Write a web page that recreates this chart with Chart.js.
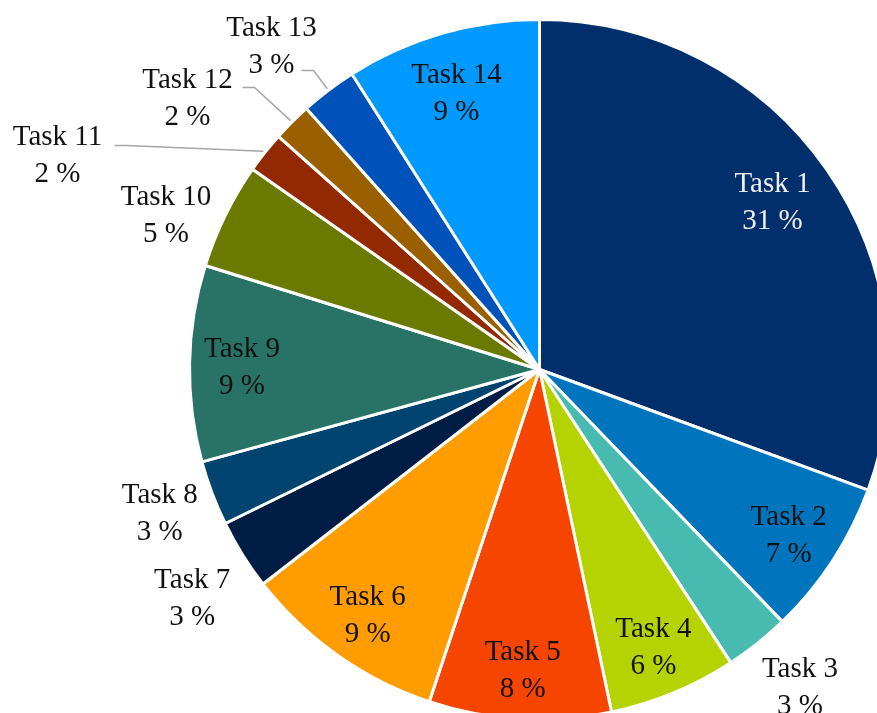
<!DOCTYPE html>
<html>
<head>
<meta charset="utf-8">
<title>Task share</title>
<script src="https://cdn.jsdelivr.net/npm/chart.js@4.4.1/dist/chart.umd.min.js"></script>
<style>
  html, body { margin: 0; padding: 0; background: #fff; overflow: hidden; }
  #wrap { position: relative; width: 877px; height: 713px; overflow: hidden; }
  #pie { position: absolute; left: 0; top: 0; }
</style>
</head>
<body>
<div id="wrap"><canvas id="pie" width="1000" height="800"></canvas></div>
<script>
// ------------------------------------------------------------
// Share of effort per task
// ------------------------------------------------------------

const tasks = ['Task 1', 'Task 2', 'Task 3', 'Task 4', 'Task 5', 'Task 6', 'Task 7',
               'Task 8', 'Task 9', 'Task 10', 'Task 11', 'Task 12', 'Task 13', 'Task 14'];
const shares = [30.6, 7.2, 3.0, 5.9, 8.4, 9.4, 3.25, 3.0, 9.05, 4.9, 1.9, 1.8, 2.6, 9.0];
const sliceColors = ['#002f6c', '#0074bd', '#48bbb0', '#b5d300', '#f54500', '#ff9c00', '#001e45',
                     '#00446f', '#287366', '#6a7a00', '#922900', '#9a6000', '#0052bb', '#0099ff'];

// where each label sits: inside the slice, just outside the rim, or off to the side with a leader line
const labelPlacement = ['in', 'in', 'out', 'in', 'in', 'in', 'out', 'out', 'in', 'out', 'lead', 'lead', 'lead', 'in'];
const labelNudge = { 0: [-11, 0], 2: [7, -4], 6: [-2, 10], 7: [1, -3], 9: [-8, 21], 13: [0, 6] };
const leaderSpots = {
    10: { dx: -482, dy: -218, ax: 57, ay: -6 },
    11: { dx: -352, dy: -275, ax: 55, ay: -7 },
    12: { dx: -268, dy: -327, ax: 30, ay: 28 }
};

const LABEL_FONT = '29px "Liberation Serif", "Times New Roman", serif';
const LINE_GAP = 37;
const TEXT_DROP = 4;

const total = shares.reduce((a, b) => a + b, 0);

const sliceLabels = {
    id: 'sliceLabels',
    afterDatasetsDraw(chart) {
        const ctx = chart.ctx;
        const meta = chart.getDatasetMeta(0);
        ctx.save();
        ctx.font = LABEL_FONT;
        ctx.textAlign = 'center';
        ctx.textBaseline = 'middle';

        meta.data.forEach((arc, i) => {
            const { x, y, startAngle, endAngle, outerRadius } = arc.getProps(['x', 'y', 'startAngle', 'endAngle', 'outerRadius'], true);
            const mid = (startAngle + endAngle) / 2;
            const mode = labelPlacement[i];
            let lx, ly;

            if (mode === 'lead') {
                const s = leaderSpots[i];
                lx = x + s.dx;
                ly = y + s.dy;
                const endX = lx + s.ax, endY = ly + s.ay;
                const rimX = x + (outerRadius + 2) * Math.cos(mid);
                const rimY = y + (outerRadius + 2) * Math.sin(mid);
                ctx.strokeStyle = '#a6a6a6';
                ctx.lineWidth = 1.5;
                ctx.beginPath();
                ctx.moveTo(endX, endY);
                ctx.lineTo(endX + 12, endY);
                ctx.lineTo(rimX, rimY);
                ctx.stroke();
            } else {
                const r = mode === 'in' ? outerRadius * 0.85 : outerRadius + 57;
                lx = x + r * Math.cos(mid);
                ly = y + r * Math.sin(mid);
                const n = labelNudge[i];
                if (n) { lx += n[0]; ly += n[1]; }
            }

            const pct = Math.round(shares[i] / total * 100) + ' %';
            ctx.fillStyle = i === 0 ? '#f0f0f0' : '#111111';
            ctx.fillText(tasks[i], lx, ly + TEXT_DROP - LINE_GAP / 2);
            ctx.fillText(pct, lx, ly + TEXT_DROP + LINE_GAP / 2);
        });
        ctx.restore();
    }
};

new Chart(document.getElementById('pie'), {
    type: 'pie',
    data: {
        labels: tasks,
        datasets: [{
            data: shares,
            backgroundColor: sliceColors,
            borderColor: '#ffffff',
            borderWidth: 3
        }]
    },
    options: {
        responsive: false,
        devicePixelRatio: 1,
        animation: false,
        layout: { padding: { left: 188, top: 18, right: 109, bottom: 79 } },
        plugins: { legend: { display: false }, tooltip: { enabled: false } }
    },
    plugins: [sliceLabels]
});
</script>
</body>
</html>
